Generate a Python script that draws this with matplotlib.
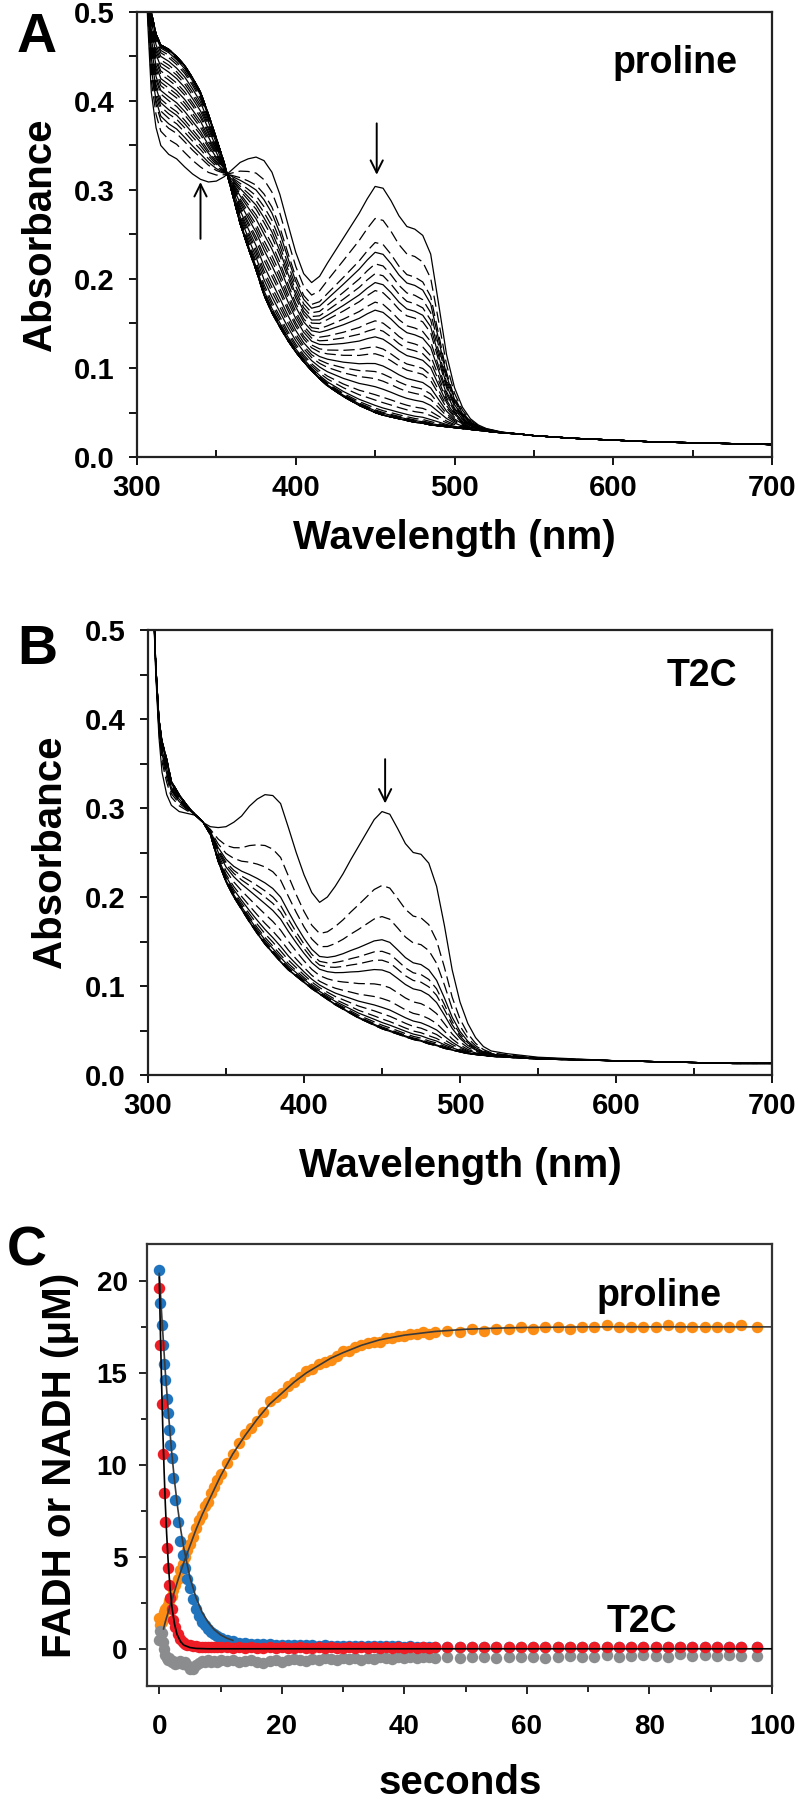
import numpy as np
import matplotlib
matplotlib.use("Agg")
import matplotlib.pyplot as plt
from matplotlib import font_manager
from matplotlib.ticker import MultipleLocator

# fonts: Arial-like bold, narrow for tick labels of the spectra
avail = {f.name for f in font_manager.fontManager.ttflist}
NARROW = 'Liberation Sans Narrow' if 'Liberation Sans Narrow' in avail else 'Liberation Sans'
plt.rcParams['font.family'] = ['Liberation Sans', 'DejaVu Sans']
plt.rcParams['font.weight'] = 'bold'

# ---------------- panel A / B spectra ----------------
wavelength = [303, 305, 307, 309, 312, 315, 320, 325, 330, 335, 340, 345, 350, 355, 360,
              365, 370, 375, 380, 385, 390, 395, 400, 405, 410, 415, 420, 425, 430, 435,
              440, 445, 450, 455, 460, 465, 470, 475, 480, 485, 490, 495, 500, 505, 510,
              515, 520, 530, 540, 550, 575, 600, 625, 650, 675, 700]

oxidized_A = [0.62, 0.56, 0.48, 0.41, 0.37, 0.35, 0.34, 0.335, 0.326, 0.318, 0.312, 0.309, 0.31, 0.315, 0.323,
              0.331, 0.335, 0.337, 0.333, 0.32, 0.295, 0.262, 0.23, 0.206, 0.196, 0.203, 0.218, 0.232, 0.246, 0.26,
              0.274, 0.29, 0.304, 0.302, 0.288, 0.271, 0.259, 0.256, 0.249, 0.228, 0.172, 0.115, 0.078, 0.056, 0.043,
              0.036, 0.032, 0.028, 0.026, 0.024, 0.021, 0.019, 0.017, 0.016, 0.015, 0.014]
reduced_A = [0.65, 0.6, 0.54, 0.5, 0.475, 0.463, 0.458, 0.45, 0.44, 0.426, 0.41, 0.385, 0.358, 0.33, 0.296,
             0.262, 0.235, 0.21, 0.182, 0.162, 0.146, 0.131, 0.118, 0.107, 0.097, 0.088, 0.08, 0.074, 0.068, 0.063,
             0.058, 0.054, 0.05, 0.047, 0.045, 0.043, 0.041, 0.039, 0.038, 0.036, 0.035, 0.034, 0.033, 0.032, 0.031,
             0.03, 0.029, 0.027, 0.026, 0.024, 0.021, 0.019, 0.017, 0.016, 0.015, 0.014]
# absorbance at 450 nm of each recorded spectrum, first = oxidized
a450_A = [0.304, 0.268, 0.241, 0.230, 0.217, 0.206, 0.196, 0.187, 0.174, 0.165, 0.153, 0.144,
          0.135, 0.124, 0.116, 0.105, 0.096, 0.088, 0.079, 0.070, 0.064, 0.058, 0.055, 0.053,
          0.052, 0.051, 0.050, 0.050, 0.050, 0.050, 0.050, 0.050]

oxidized_B = [0.55, 0.45, 0.38, 0.34, 0.315, 0.303, 0.296, 0.294, 0.292, 0.284, 0.279, 0.278, 0.279, 0.284, 0.291,
              0.302, 0.31, 0.315, 0.314, 0.305, 0.278, 0.25, 0.225, 0.205, 0.194, 0.2, 0.212, 0.226, 0.242, 0.257,
              0.272, 0.287, 0.296, 0.293, 0.277, 0.26, 0.25, 0.248, 0.238, 0.212, 0.168, 0.118, 0.082, 0.058, 0.042,
              0.032, 0.027, 0.024, 0.022, 0.02, 0.018, 0.016, 0.015, 0.014, 0.013, 0.013]
reduced_B = [0.56, 0.46, 0.4, 0.375, 0.355, 0.33, 0.315, 0.303, 0.293, 0.285, 0.27, 0.24, 0.217, 0.2, 0.186,
             0.172, 0.159, 0.147, 0.137, 0.127, 0.118, 0.111, 0.104, 0.097, 0.091, 0.085, 0.079, 0.074, 0.069, 0.064,
             0.06, 0.056, 0.052, 0.049, 0.046, 0.043, 0.04, 0.038, 0.035, 0.033, 0.03, 0.028, 0.026, 0.024, 0.023,
             0.022, 0.021, 0.02, 0.019, 0.018, 0.017, 0.016, 0.015, 0.014, 0.013, 0.013]
a450_B = [0.296, 0.213, 0.178, 0.152, 0.139, 0.129, 0.118, 0.101, 0.086, 0.076, 0.069,
          0.063, 0.059, 0.056, 0.054, 0.053, 0.052, 0.052]

# ---------------- panel C kinetics ----------------
seconds = [0, 0.2, 0.4, 0.6, 0.8, 1.0, 1.2, 1.4, 1.6, 1.8, 2.0,
           2.3, 2.6, 3.0, 3.4, 3.8, 4.2, 4.6, 5.0,
           5.5, 6.0, 6.5, 7.0, 7.5, 8.0, 8.5, 9.0, 9.5, 10,
           11, 12, 13, 14, 15, 16, 17, 18, 19, 20, 21, 22, 23, 24, 25, 26, 27, 28,
           29, 30, 31, 32, 33, 34, 35, 36, 37, 38, 39, 40, 41, 42, 43, 44, 45,
           47, 49, 51, 53, 55, 57, 59, 61, 63, 65, 67, 69, 71, 73, 75, 77, 79,
           81, 83, 85, 87, 89, 91, 93, 95, 97.5]
nadh_proline = [1.7, 1.3, 1.5, 1.8, 2.0, 2.2, 2.3, 2.4, 2.6, 2.8, 2.9,
                3.2, 3.5, 3.8, 4.3, 4.6, 5.0, 5.4, 5.7,
                6.1, 6.6, 7.0, 7.3, 7.8, 8.0, 8.5, 8.8, 9.2, 9.5,
                10.1, 10.6, 11.2, 11.7, 12.0, 12.4, 12.9, 13.5, 13.7, 13.9, 14.3, 14.5, 14.8, 15.1, 15.2, 15.5, 15.6, 15.7,
                15.9, 16.2, 16.2, 16.4, 16.5, 16.6, 16.7, 16.7, 16.9, 16.9, 17.0, 17.0, 17.1, 17.1, 17.2, 17.1, 17.2,
                17.3, 17.2, 17.4, 17.3, 17.4, 17.4, 17.5, 17.4, 17.5, 17.5, 17.4, 17.5, 17.5, 17.6, 17.5, 17.5, 17.5,
                17.5, 17.6, 17.5, 17.5, 17.5, 17.5, 17.5, 17.6, 17.5]
fadh_proline = [20.6, 18.8, 17.6, 16.5, 15.5, 14.6, 13.6, 12.8, 11.9, 11.1, 10.4,
                9.3, 8.1, 6.9, 5.9, 5.1, 4.4, 3.8, 3.3,
                2.7, 2.2, 1.8, 1.5, 1.3, 1.1, 0.95, 0.8, 0.7, 0.6,
                0.5, 0.42, 0.36, 0.32, 0.3, 0.28, 0.26, 0.27, 0.24, 0.25, 0.22, 0.23, 0.2, 0.22, 0.2, 0.19, 0.2, 0.18,
                0.19, 0.17, 0.18, 0.17, 0.16, 0.18, 0.16, 0.15, 0.17, 0.15, 0.16, 0.14, 0.15, 0.14, 0.13, 0.14, 0.13,
                0.12, 0.13, 0.11, 0.12, 0.13, 0.12, 0.11, 0.12, 0.12, 0.13, 0.11, 0.12, 0.12, 0.11, 0.12, 0.13, 0.12,
                0.11, 0.12, 0.12, 0.13, 0.12, 0.11, 0.12, 0.12, 0.12]
fadh_t2c = [19.6, 16.5, 13.3, 10.6, 8.5, 6.9, 5.5, 4.4, 3.5, 2.8, 2.2,
            1.6, 1.2, 0.8, 0.55, 0.4, 0.3, 0.25, 0.2,
            0.17, 0.15, 0.14, 0.12, 0.12, 0.11, 0.1, 0.1, 0.1, 0.1,
            0.1, 0.09, 0.1, 0.08, 0.1, 0.09, 0.08, 0.1, 0.09, 0.1, 0.08, 0.09, 0.1, 0.09, 0.08, 0.1, 0.09, 0.1,
            0.09, 0.08, 0.1, 0.09, 0.1, 0.09, 0.1, 0.08, 0.1, 0.09, 0.1, 0.09, 0.1, 0.08, 0.1, 0.09, 0.1,
            0.1, 0.12, 0.1, 0.11, 0.1, 0.12, 0.1, 0.11, 0.12, 0.1, 0.11, 0.1, 0.12, 0.1, 0.11, 0.12, 0.1,
            0.13, 0.11, 0.1, 0.12, 0.11, 0.13, 0.1, 0.12, 0.1]
nadh_t2c = [0.5, 1.0, 0.9, 0.4, 0.0, -0.3, -0.5, -0.6, -0.5, -0.6, -0.7,
            -0.65, -0.8, -0.75, -0.65, -0.8, -0.7, -0.85, -1.05,
            -1.1, -0.85, -0.75, -0.65, -0.7, -0.6, -0.7, -0.65, -0.7, -0.6,
            -0.65, -0.6, -0.7, -0.65, -0.6, -0.7, -0.75, -0.65, -0.6, -0.7, -0.6, -0.55, -0.6, -0.65, -0.55, -0.6, -0.5, -0.55,
            -0.6, -0.5, -0.55, -0.5, -0.6, -0.5, -0.55, -0.45, -0.5, -0.55, -0.45, -0.5, -0.45, -0.5, -0.4, -0.45, -0.5,
            -0.45, -0.5, -0.4, -0.45, -0.5, -0.4, -0.45, -0.4, -0.5, -0.4, -0.35, -0.45, -0.4, -0.3, -0.4, -0.35, -0.3,
            -0.35, -0.4, -0.25, -0.35, -0.3, -0.35, -0.3, -0.35, -0.35]

# fitted curves
fit_t_nadh = [0.7, 1, 2, 3, 4, 5, 6, 7, 8, 10, 12, 14, 16, 18, 20, 22, 24, 26, 28, 30,
              33, 36, 40, 45, 50, 55, 60, 70, 80, 100]
fit_nadh = [1.1, 1.5, 2.6, 3.7, 4.7, 5.6, 6.5, 7.3, 8.0, 9.4, 10.6, 11.6, 12.5, 13.3, 13.9, 14.5,
            15.0, 15.4, 15.8, 16.1, 16.5, 16.8, 17.05, 17.25, 17.37, 17.43, 17.47, 17.5, 17.5, 17.5]
fit_t_fadh = [0, 0.5, 1, 1.5, 2, 2.5, 3, 3.5, 4, 5, 6, 7, 8, 9, 10, 11, 12]
fit_fadh = [20.4, 17.6, 15.0, 12.8, 10.8, 9.1, 7.7, 6.5, 5.5, 3.9, 2.8, 2.0, 1.45, 1.05, 0.78, 0.6, 0.48]
fit_t_t2c = [0, 0.2, 0.4, 0.6, 0.8, 1.0, 1.2, 1.5, 1.8, 2.1, 2.5, 2.9, 3.5, 4, 5, 6, 8, 100]
fit_t2c = [20.2, 17.0, 14.2, 11.7, 9.6, 7.8, 6.3, 4.5, 3.2, 2.2, 1.35, 0.8, 0.4, 0.22, 0.09, 0.04, 0.02, 0.02]

W, H = 798, 1800
fig = plt.figure(figsize=(W / 100, H / 100), dpi=100)


def rect(left, top, right, bottom):
    return [left / W, 1 - bottom / H, (right - left) / W, (bottom - top) / H]


def spectra_panel(ax, ox, red, a450):
    wl = np.array(wavelength)
    ox = np.array(ox)
    red = np.array(red)
    i450 = wavelength.index(450)
    for k, a in enumerate(a450):
        frac = (a - red[i450]) / (ox[i450] - red[i450])
        y = red + frac * (ox - red)
        if k == 0 or k % 3 == 0:
            ax.plot(wl, y, color='black', lw=0.9)
        else:
            ax.plot(wl, y, color='black', lw=0.9, dashes=(9, 4))
    ax.plot(wl, red, color='black', lw=0.9)
    ax.set_xlim(300, 700)
    ax.set_ylim(0, 0.5)
    ax.xaxis.set_major_locator(MultipleLocator(100))
    ax.xaxis.set_minor_locator(MultipleLocator(50))
    ax.yaxis.set_major_locator(MultipleLocator(0.1))
    ax.yaxis.set_minor_locator(MultipleLocator(0.05))
    ax.yaxis.set_major_formatter(plt.FuncFormatter(lambda v, p: f'{v:.1f}'))
    ax.tick_params(axis='y', which='both', direction='out', length=6, width=1.3,
                   pad=10, labelsize=21)
    ax.tick_params(axis='x', which='major', direction='out', length=6, width=1.3,
                   pad=6, labelsize=21)
    ax.tick_params(axis='x', which='minor', direction='in', length=5, width=1.3)
    for lab in ax.get_xticklabels() + ax.get_yticklabels():
        lab.set_family([NARROW, 'DejaVu Sans'])
        lab.set_weight('bold')
    for s in ax.spines.values():
        s.set_linewidth(1.6)
        s.set_color('#222222')


# panel A
axA = fig.add_axes(rect(137, 12, 772, 457))
spectra_panel(axA, oxidized_A, reduced_A, a450_A)
axA.text(639, 0.443, 'proline', ha='center', va='center', fontsize=27, fontweight='bold')
axA.annotate('', xy=(340, 0.312), xytext=(340, 0.242),
             arrowprops=dict(arrowstyle='->', lw=1.4, color='black', mutation_scale=22))
axA.annotate('', xy=(451, 0.314), xytext=(451, 0.378),
             arrowprops=dict(arrowstyle='->', lw=1.4, color='black', mutation_scale=22))
fig.text(40 / W, 1 - 235 / H, 'Absorbance', rotation=90, ha='center', va='center',
         fontsize=29, fontweight='bold')
fig.text(454 / W, 1 - 538 / H, 'Wavelength (nm)', ha='center', va='center',
         fontsize=29, fontweight='bold')
fig.text(37 / W, 1 - 38 / H, 'A', ha='center', va='center', fontsize=40, fontweight='bold')

# panel B
axB = fig.add_axes(rect(148, 630, 772, 1075))
spectra_panel(axB, oxidized_B, reduced_B, a450_B)
axB.text(655, 0.448, 'T2C', ha='center', va='center', fontsize=27, fontweight='bold')
axB.annotate('', xy=(452, 0.302), xytext=(452, 0.358),
             arrowprops=dict(arrowstyle='->', lw=1.4, color='black', mutation_scale=22))
fig.text(50 / W, 1 - 852 / H, 'Absorbance', rotation=90, ha='center', va='center',
         fontsize=29, fontweight='bold')
fig.text(460 / W, 1 - 1166 / H, 'Wavelength (nm)', ha='center', va='center',
         fontsize=29, fontweight='bold')
fig.text(37 / W, 1 - 650 / H, 'B', ha='center', va='center', fontsize=40, fontweight='bold')

# panel C
axC = fig.add_axes(rect(147, 1244, 772, 1686))
ms = 68
axC.scatter(seconds, nadh_proline, s=ms, color='#fb8c14', lw=0, zorder=2)
axC.scatter(seconds, fadh_proline, s=ms, color='#1f74bd', lw=0, zorder=2)
axC.scatter(seconds, nadh_t2c, s=ms, color='#8a8c8e', lw=0, zorder=2)
axC.scatter(seconds, fadh_t2c, s=ms, color='#ee1c25', lw=0, zorder=2)
axC.plot(fit_t_nadh, fit_nadh, color='#3a3a3a', lw=1.2, zorder=3)
axC.plot(fit_t_fadh, fit_fadh, color='#3a3a3a', lw=1.2, zorder=3)
axC.plot(fit_t_t2c, fit_t2c, color='black', lw=1.2, zorder=3)
axC.set_xlim(-2, 100)
axC.set_ylim(-2, 22)
axC.xaxis.set_major_locator(MultipleLocator(20))
axC.xaxis.set_minor_locator(MultipleLocator(10))
axC.yaxis.set_major_locator(MultipleLocator(5))
axC.yaxis.set_minor_locator(MultipleLocator(2.5))
axC.tick_params(axis='both', which='major', direction='out', length=6, width=1.2, labelsize=20)
axC.tick_params(axis='both', which='minor', direction='out', length=4, width=1.2)
axC.tick_params(axis='x', pad=14)
axC.tick_params(axis='y', pad=8)
for s in axC.spines.values():
    s.set_linewidth(1.6)
    s.set_color('#333333')
axC.text(81.5, 19.2, 'proline', ha='center', va='center', fontsize=27, fontweight='bold')
axC.text(78.7, 1.5, 'T2C', ha='center', va='center', fontsize=27, fontweight='bold')
fig.text(60 / W, 1 - 1465 / H, 'FADH or NADH (\u03bcM)', rotation=90, ha='center', va='center',
         fontsize=29, fontweight='bold', family=['Liberation Sans', 'DejaVu Sans'])
fig.text(460 / W, 1 - 1783 / H, 'seconds', ha='center', va='center', fontsize=29, fontweight='bold')
fig.text(27 / W, 1 - 1252 / H, 'C', ha='center', va='center', fontsize=40, fontweight='bold')

fig.savefig('out.png', dpi=100)
